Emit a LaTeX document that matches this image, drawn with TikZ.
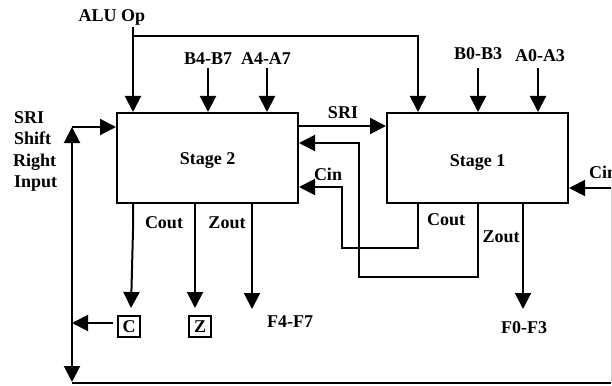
\documentclass[tikz,border=0pt]{standalone}
\usepackage{fontspec}
\setmainfont{Liberation Serif}
\usetikzlibrary{arrows.meta}
\begin{document}
\begin{tikzpicture}[x=1pt,y=-1pt,
  wire/.style={line width=2pt},
  arr/.style={wire,-{Triangle[width=16pt,length=16pt]}},
  stagebox/.style={draw,line width=2pt,minimum width=181pt,minimum height=90pt,inner sep=0pt},
  flag/.style={draw,line width=1.8pt,minimum width=22pt,minimum height=21pt,inner sep=0pt},
  lbl/.style={inner sep=0pt,anchor=base,font=\fontsize{18}{21}\selectfont\bfseries},
  lbll/.style={lbl,anchor=base west}]
\useasboundingbox (0,0) rectangle (612,385);
\fill[white] (0,0) rectangle (612,385);

% stages
\node[stagebox] (s2) at (207.5,158) {};
\node[stagebox] (s1) at (477.5,158) {};
\node[lbl] (s2t) at (207.5,164) {Stage 2};
\node[lbl] (s1t) at (477.5,166) {Stage 1};

% top labels
\node[lbl] (alu) at (112,21.5) {ALU Op};
\node[lbl] (b47) at (208,65) {B4-B7};
\node[lbl] (a47) at (266,65) {A4-A7};
\node[lbl] (b03) at (478,60) {B0-B3};
\node[lbl] (a03) at (540,62) {A0-A3};

% left labels
\node[lbll] (l1) at (14,123) {SRI};
\node[lbll] (l2) at (14,144.5) {Shift};
\node[lbll] (l3) at (13,166) {Right};
\node[lbll] (l4) at (14,187.5) {Input};

% middle labels
\node[lbl] (sri) at (343,118) {SRI};
\node[lbl] (cin2) at (328,180) {Cin};
\node[lbll] (cin1) at (589,178) {Cin};

% bottom labels
\node[lbl] (cout2) at (164,228) {Cout};
\node[lbl] (zout2) at (227,228) {Zout};
\node[lbl] (cout1) at (446,225) {Cout};
\node[lbl] (zout1) at (501,242) {Zout};
\node[lbl] (f47) at (290,327) {F4-F7};
\node[lbl] (f03) at (524,333) {F0-F3};
\node[flag,font=\fontsize{18}{21}\selectfont\bfseries] (cf) at (129,326.5) {C};
\node[flag,font=\fontsize{18}{21}\selectfont\bfseries] (zf) at (200,326.5) {Z};

% coordinates
\coordinate (aluT) at (133,27);
\coordinate (aluJ) at (133,36);
\coordinate (aluR) at (418,36);
\coordinate (b47in) at (208,68);
\coordinate (a47in) at (267,68);
\coordinate (b03in) at (478,68);
\coordinate (a03in) at (538,68);
\coordinate (sriY) at (0,126);
\coordinate (busTop) at (72,127);
\coordinate (busC) at (72,323);
\coordinate (busBot) at (72,382);
\coordinate (botL) at (72,383);
\coordinate (botR) at (611,383);
\coordinate (cinR) at (611,188);

% ALU Op
\draw[arr] (aluT) -- (aluT |- s2.north);
\draw[arr] (aluJ) -- (aluR) -- (aluR |- s1.north);

% data inputs
\draw[arr] (b47in) -- (b47in |- s2.north);
\draw[arr] (a47in) -- (a47in |- s2.north);
\draw[arr] (b03in) -- (b03in |- s1.north);
\draw[arr] (a03in) -- (a03in |- s1.north);

% SRI between stages
\draw[arr] (s2.east |- sriY) -- (s1.west |- sriY);

% stage 1 Zout feedback
\draw[arr] (478,203) -- (478,277) -- (359,277) -- (359,143) -- (s2.east |- 0,143);
% stage 1 Cout -> stage 2 Cin
\draw[arr] (418,203) -- (418,248) -- (342,248) -- (342,187) -- (s2.east |- 0,187);

% stage 1 Cin from right edge
\draw[arr] (cinR) -- (s1.east |- cinR);
\draw[gray!35,line width=0.6pt] (cinR) -- (botR);
\draw[wire] (botL) -- (botR);

% stage 2 outputs
\draw[arr] (133,203) -- (133,230) -- (131,308);
\draw[arr] (195,203) -- (195,308);
\draw[arr] (252,203) -- (252,309);
% stage 1 output
\draw[arr] (523,203) -- (523,309);

% C flag to bus
\draw[arr] (cf.west |- busC) ++(-4,0) -- (busC);
\draw[arr] (busC) -- (busTop);
\draw[arr] (busC) -- (busBot);
\draw[arr] (busTop) -- (s2.west |- busTop);
\end{tikzpicture}
\end{document}
